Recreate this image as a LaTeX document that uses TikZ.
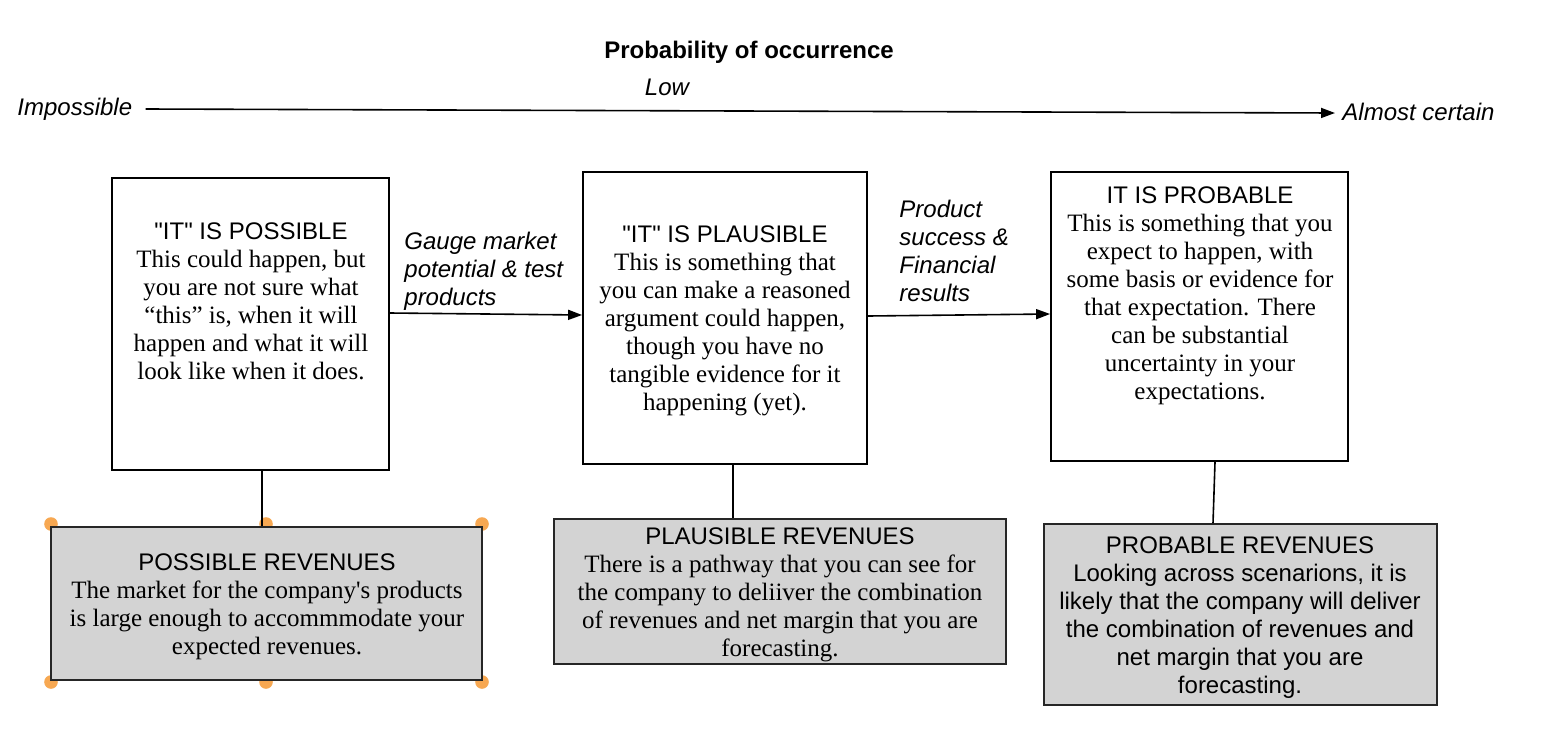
\documentclass[tikz,border=0pt]{standalone}
\usepackage{fontspec}
\setmainfont{Liberation Serif}
\newfontfamily\hv{Liberation Sans}
\usetikzlibrary{arrows.meta}
\definecolor{boxgray}{RGB}{211,211,211}
\definecolor{handle}{RGB}{247,168,82}
\newcommand\boxhead[1]{{\hv\fontsize{12}{14}\selectfont #1}}
\newcommand\straightapos{{\addfontfeatures{Ligatures=TeXOff}'}}
\tikzset{
  wbox/.style={draw=black, line width=0.9pt, fill=white, inner sep=0pt},
  gbox/.style={draw=black!85, line width=1pt, fill=boxgray, inner sep=0pt},
  body/.style={align=center, inner sep=0pt, font=\fontsize{12.5}{14}\selectfont, anchor=north},
  sbody/.style={align=center, inner sep=0pt, font=\hv\fontsize{12}{14}\selectfont, anchor=north},
  lbl/.style={align=left, inner sep=0pt, font=\hv\itshape\fontsize{12}{14}\selectfont},
  conn/.style={line width=0.8pt},
  arr/.style={line width=0.8pt, -{Triangle[length=7pt,width=5pt]}},
  hdot/.style={fill=handle}
}
\begin{document}
\begin{tikzpicture}[x=0.5pt,y=-0.5pt]
\useasboundingbox (0,0) rectangle (1556,734);
% axis
\node[font=\hv\bfseries\fontsize{12}{14}\selectfont, inner sep=0pt] (title) at (749,52) {Probability of occurrence};
\node[lbl] (low) at (667,87) {Low};
\node[lbl, anchor=west] (imp) at (17,109) {Impossible};
\node[lbl, anchor=west] (alm) at (1342,112) {Almost certain};
\draw[arr] ([xshift=6.5pt,yshift=0pt]imp.east) -- ([xshift=-3.5pt,yshift=-0.5pt]alm.west);
% handles
\foreach \hx/\hy in {51/524,266/524,482/524,51/682,266/682,482/682}
  \fill[hdot] (\hx,\hy) circle[radius=3.4pt];
% boxes
\node[wbox, minimum width=138.5pt, minimum height=146pt] (b1) at (250.5,324) {};
\node[wbox, minimum width=142pt, minimum height=146pt] (b2) at (725,318) {};
\node[wbox, minimum width=148.5pt, minimum height=144.5pt] (b3) at (1199.5,316.5) {};
\node[gbox, minimum width=215.5pt, minimum height=76.5pt] (g1) at (266.5,603.5) {};
\node[gbox, minimum width=226pt, minimum height=72.5pt] (g2) at (780,591.5) {};
\node[gbox, minimum width=196.5pt, minimum height=90.5pt] (g3) at (1240.5,614.5) {};
% texts
\node[body] (t1) at (251,222) {\boxhead{"IT" IS POSSIBLE}\\This could happen, but\\you are not sure what\\“this” is, when it will\\happen and what it will\\look like when it does.};
\node[body] (t2) at (725,225) {\boxhead{"IT" IS PLAUSIBLE}\\This is something that\\you can make a reasoned\\argument could happen,\\though you have no\\tangible evidence for it\\happening (yet).};
\node[body] (t3) at (1200,186) {\boxhead{IT IS PROBABLE}\\This is something that you\\expect to happen, with\\some basis or evidence for\\that expectation. There\\can be substantial\\uncertainty in your\\expectations.};
\node[body] (u1) at (267,553) {\boxhead{POSSIBLE REVENUES}\\The market for the company\straightapos s products\\is large enough to accommmodate your\\expected revenues.};
\node[body] (u2) at (780,527) {\boxhead{PLAUSIBLE REVENUES}\\There is a pathway that you can see for\\the company to deliiver the combination\\of revenues and net margin that you are\\forecasting.};
\node[sbody] (u3) at (1240,536) {PROBABLE REVENUES\\Looking across scenarions, it is\\likely that the company will deliver\\the combination of revenues and\\net margin that you are\\forecasting.};
% edge labels
\node[lbl, anchor=north west] (l1) at (404,232) {Gauge market\\potential \& test\\products};
\node[lbl, anchor=north west] (l2) at (899,200) {Product\\success \&\\Financial\\results};
% connectors
\draw[arr] ([yshift=5.5pt]b1.east) -- ([yshift=1.5pt]b2.west);
\draw[arr] ([yshift=1pt]b2.east) -- ([yshift=1.25pt]b3.west);
\draw[conn] ([xshift=5.75pt]b1.south) -- ([xshift=-2.25pt]g1.north);
\draw[conn] ([xshift=4pt]b2.south) -- ([xshift=-23.5pt]g2.north);
\draw[conn] ([xshift=7.75pt]b3.south) -- ([xshift=-13.75pt]g3.north);
\end{tikzpicture}
\end{document}
